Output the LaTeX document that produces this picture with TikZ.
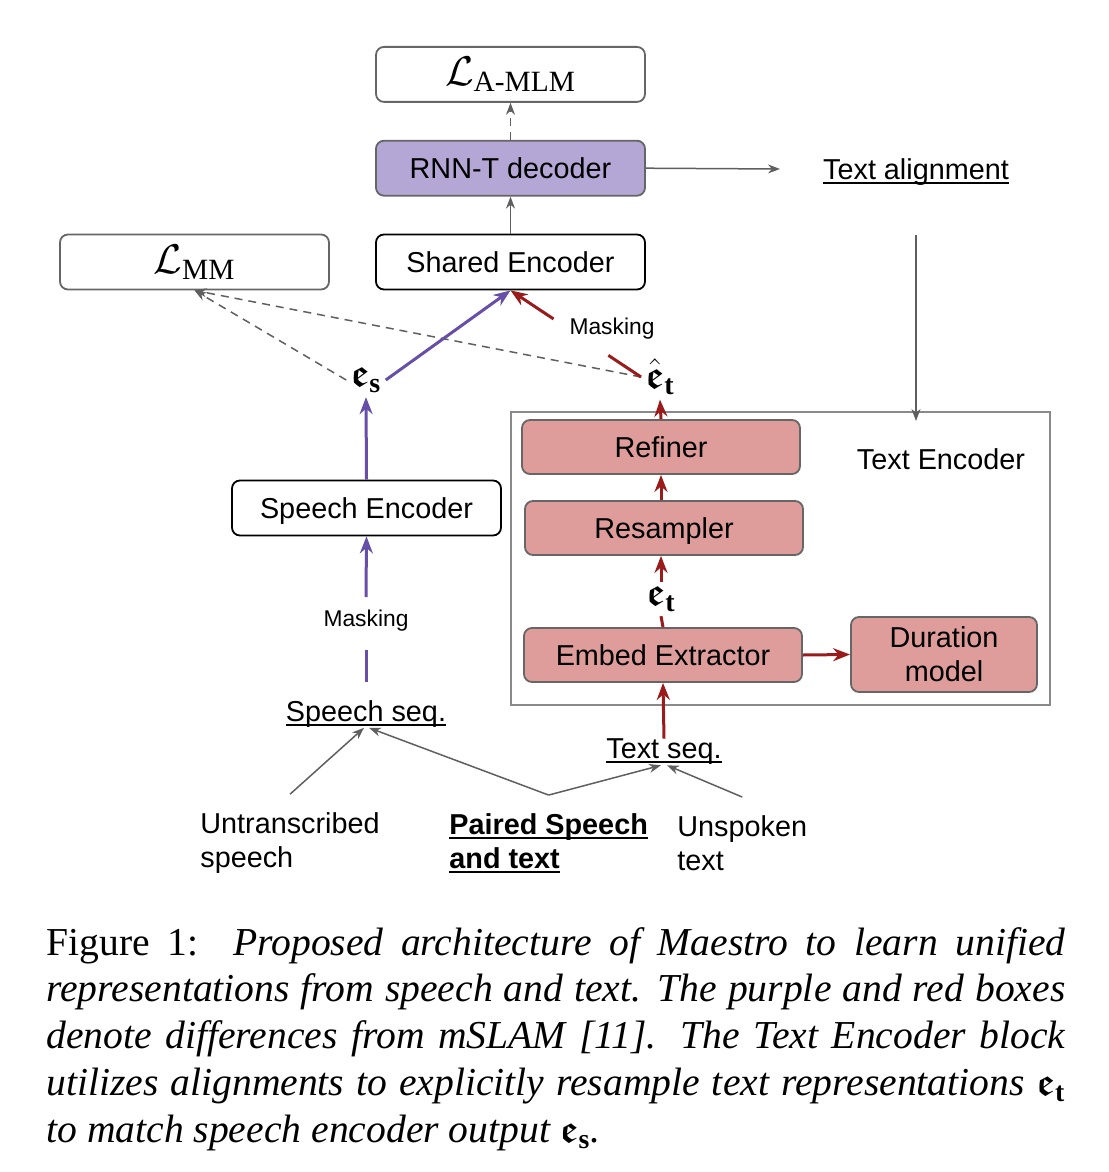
\documentclass[tikz,border=0pt]{standalone}
\usepackage{amsmath,amssymb}
\usepackage{fontspec}
\setmainfont{Liberation Serif}
\setsansfont{Liberation Sans}
\usetikzlibrary{arrows.meta,positioning,calc}
\definecolor{decfill}{HTML}{B4A7D6}
\definecolor{encfill}{HTML}{DE9D9B}
\definecolor{speechline}{HTML}{674EA7}
\definecolor{textline}{HTML}{991B1B}
\definecolor{bordergray}{HTML}{666666}
\definecolor{arrowgray}{HTML}{5F5F5F}
\definecolor{framegray}{HTML}{8A8A8A}
% underline at a fixed depth
\newsavebox{\ulbox}
\newcommand{\ultext}[1]{\sbox{\ulbox}{#1}\rlap{\vrule height -1.2pt depth 2.1pt width \wd\ulbox}\usebox{\ulbox}}
\newcommand{\emb}[1]{\boldsymbol{\mathfrak{e}}_{\mathbf{#1}}}

\begin{document}
\begin{tikzpicture}[x=0.5pt, y=-0.5pt]
% STYLES
\tikzset{%
    block/.style={%
rectangle,
rounded corners=4pt,
draw=black,
line width=0.9pt,
fill=white,
inner sep=0pt,
minimum width=134.5pt,
minimum height=27.5pt,
text height=10.3pt,
text depth=0pt,
font=\sffamily\fontsize{14.4}{17}\selectfont
                 },
    lossblock/.style={block, draw=bordergray, text height={}, text depth={}, font=\fontsize{21}{24}\selectfont},
    decblock/.style={block, draw=bordergray, fill=decfill},
    encblock/.style={block, draw=bordergray, fill=encfill, minimum width=139pt, minimum height=27pt},
    plaintext/.style={font=\sffamily\fontsize{14.4}{17}\selectfont, inner sep=0pt},
    masktext/.style={font=\sffamily\fontsize{11.4}{13}\selectfont, inner sep=0pt},
    embedding/.style={font=\fontsize{20}{22}\selectfont, inner sep=2pt},
    greyarrow/.style={->, >={Stealth[length=6pt,width=4.5pt]}, draw=arrowgray, line width=0.75pt},
    dashedarrow/.style={greyarrow, dash pattern=on 4pt off 3pt},
    purpleline/.style={draw=speechline, line width=1.5pt},
    purplearrow/.style={purpleline, ->, >={Stealth[length=8.5pt,width=6.5pt]}},
    redline/.style={draw=textline, line width=1.5pt},
    redarrow/.style={redline, ->, >={Stealth[length=8.5pt,width=6.5pt]}}
             }
\useasboundingbox (0,0) rectangle (1108,1172);

% Draw blocks
\node [block] (shared) at (510.5,262) {Shared Encoder};
\node [decblock, above=18.5pt of shared] (rnnt) {RNN-T decoder};
\node [lossblock, above=18.5pt of rnnt] (lossmlm) {$\mathcal{L}_{\textrm{A-MLM}}$};
\node [lossblock] (lossmm) at (194.5,262) {$\mathcal{L}_{\textrm{MM}}$};
\node [block] (speechenc) at (366.5,508) {Speech Encoder};

% Text encoder
\node [draw=framegray, line width=0.75pt, inner sep=0pt, minimum width=269.5pt, minimum height=146.5pt] (textenc) at (780.5,558.5) {};
\node [plaintext] (textenclabel) at (941,459) {Text Encoder};
\node [encblock] (refiner) at (661,447) {Refiner};
\node [encblock] (resampler) at (664,528) {Resampler};
\node [encblock] (embed) at (663,655) {Embed Extractor};
\node [encblock, minimum width=93pt, minimum height=37.5pt, text height={}, text depth={}, align=center] (duration) at (944,654.5) {Duration\\model};

% Embeddings
\node [embedding] (es) at (366,380) {$\emb{s}$};
\node [embedding] (ethat) at (660,377) {$\hat{\boldsymbol{\mathfrak{e}}}_{\mathbf{t}}$};
\node [embedding] (et) at (661,599) {$\emb{t}$};

% Labels
\node [plaintext] (align) at (916,172) {\ultext{Text alignment}};
\node [masktext] (maskshared) at (612,329) {Masking};
\node [masktext] (maskspeech) at (366,621) {Masking};
\node [plaintext] (speechseq) at (366,714) {\ultext{Speech seq.}};
\node [plaintext] (textseq) at (664,752) {\ultext{Text seq.}};
\node [plaintext, align=left, anchor=west] (untrans) at (200,843) {Untranscribed\\speech};
\node [plaintext, align=left, anchor=west, font=\sffamily\bfseries\fontsize{14.4}{17}\selectfont] (paired) at (449,843) {\ultext{Paired Speech}\\\ultext{and text}};
\node [plaintext, align=left, anchor=west] (unspoken) at (677,843) {Unspoken\\text};

% Caption
\node [anchor=base west, inner sep=0pt, text width=509.5pt, align=justify, font=\rmfamily\fontsize{19.8}{23.4}\selectfont] (caption) at (46,955) {\hyphenpenalty=10000 Figure 1:\ \ \textit{Proposed architecture of Maestro to learn unified\linebreak representations from speech and text. The purple and red boxes\linebreak denote differences from mSLAM [11]. The Text Encoder block\linebreak utilizes alignments to explicitly resample text representations $\emb{t}$\linebreak to match speech encoder output $\emb{s}$.}};

% Draw the links
\coordinate (alignout) at (780,169);
\coordinate (aligntop) at (916,235);
\coordinate (alignbottom) at (916,421);
\coordinate (speechmaskin) at (366,682);
\coordinate (speechmaskgap) at (366,650);
\coordinate (speechmaskout) at (366,597);
\draw [dashedarrow] (rnnt.north) -- (lossmlm.south);
\draw [greyarrow] (shared.north) -- (rnnt.south);
\draw [greyarrow] (rnnt.east) -- (alignout);
\draw [greyarrow] (aligntop) -- (alignbottom);
\draw [dashedarrow] (es.west) -- (lossmm.south);
\draw [dashedarrow] (ethat.west) -- (lossmm.south);

% speech branch
\draw [purpleline] (speechmaskin) -- (speechmaskgap);
\draw [purplearrow] (speechmaskout) -- (speechenc.south);
\draw [purplearrow] (speechenc.north) -- (es.south);
\draw [purplearrow] (es.east) -- (shared.south);

% text branch
\draw [redarrow] (textseq.north) -- (embed.south);
\draw [redarrow] (embed.east) -- (duration.west);
\draw [redline] (embed.north) -- (et.south);
\draw [redarrow] (et.north) -- (et.north |- resampler.south);
\draw [redarrow] (refiner.south |- resampler.north) -- (refiner.south);
\draw [redarrow] (refiner.north) -- (ethat.south);
\draw [redline] (ethat.west) -- ($(ethat.west)!0.25!(shared.south)$);
\draw [redarrow] ($(ethat.west)!0.67!(shared.south)$) -- (shared.south);

% inputs
\draw [greyarrow] ([yshift=9pt]untrans.north) -- ([xshift=-1pt]speechseq.south);
\draw [greyarrow] ([yshift=9pt]paired.north) -- ([xshift=1.5pt]speechseq.south);
\draw [greyarrow] ([yshift=9pt]paired.north) -- ([xshift=-1.5pt]textseq.south);
\draw [greyarrow] ([yshift=9pt]unspoken.north) -- ([xshift=1.5pt]textseq.south);
\end{tikzpicture}
\end{document}
